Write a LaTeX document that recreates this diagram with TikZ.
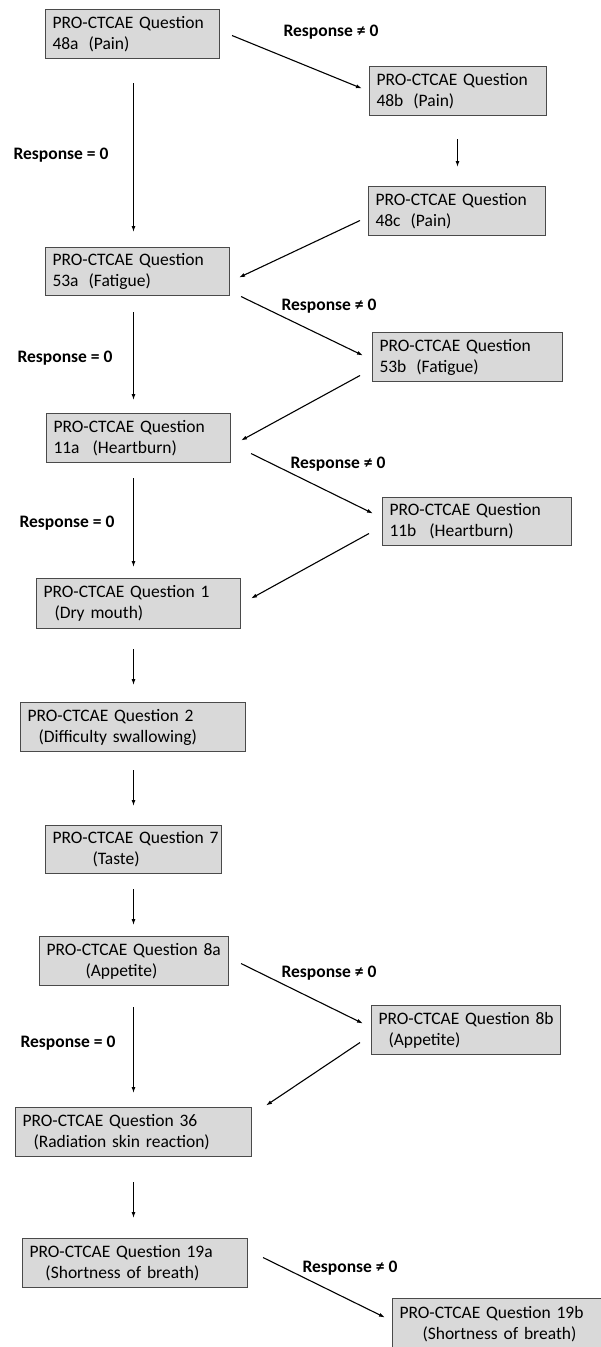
\documentclass[tikz,border=0pt]{standalone}
\usepackage{fontspec}
\setmainfont{Carlito}
\usetikzlibrary{calc,arrows.meta}
\definecolor{boxfill}{HTML}{D9D9D9}
\definecolor{boxline}{HTML}{4A4A4A}
\tikzset{
  qbox/.style={draw=boxline, fill=boxfill, line width=1pt, anchor=north west,
    inner xsep=7pt, inner ysep=0pt, align=left, minimum height=49pt,
    font=\fontsize{17.5}{21}\selectfont},
  lbl/.style={font=\fontsize{17.5}{21}\selectfont\bfseries, inner sep=0pt},
  arr/.style={line width=1.1pt, -{Latex[length=6pt,width=4pt]}}
}
\newcommand{\qb}[7]{% name, x, y, width, height, line 1, line 2
  \node[qbox, minimum width=#4pt, text width=\dimexpr #4pt-14pt\relax, minimum height=#5pt] (#1) at (#2,#3) {\mbox{#6}\\\mbox{#7}};}
\hfuzz=100pt
\begin{document}
\begin{tikzpicture}[x=1pt,y=-1pt]
\useasboundingbox (0,0) rectangle (601,1347);
\clip (0,0) rectangle (601,1347);
% boxes
\qb{q48a}{45}{9}{174}{49}{PRO-CTCAE Question}{48a\hspace{10pt}(Pain)}
\qb{q48b}{369}{66}{177}{49}{PRO-CTCAE Question}{48b\hspace{10pt}(Pain)}
\qb{q48c}{368}{186}{177}{49}{PRO-CTCAE Question}{48c\hspace{10pt}(Pain)}
\qb{q53a}{45}{247}{184}{48}{PRO-CTCAE Question}{53a\hspace{10pt}(Fatigue)}
\qb{q53b}{372}{332}{190}{49}{PRO-CTCAE Question}{53b\hspace{10pt}(Fatigue)}
\qb{q11a}{46}{413}{184}{49}{PRO-CTCAE Question}{11a\hspace{13pt}(Heartburn)}
\qb{q11b}{382}{497}{189}{48}{PRO-CTCAE Question}{11b\hspace{13pt}(Heartburn)}
\qb{q1}{36}{578}{204}{50}{PRO-CTCAE Question 1}{\hspace*{11pt}(Dry mouth)}
\qb{q2}{20}{702}{225}{49}{PRO-CTCAE Question 2}{\hspace*{11pt}(Difficulty swallowing)}
\qb{q7}{45}{825}{176}{48}{PRO-CTCAE Question 7}{\hspace*{40pt}(Taste)}
\qb{q8a}{39}{936}{189}{49}{PRO-CTCAE Question 8a}{\hspace*{39pt}(Appetite)}
\qb{q8b}{371}{1005}{189}{49}{PRO-CTCAE Question 8b}{\hspace*{10pt}(Appetite)}
\qb{q36}{15}{1107}{236}{49}{PRO-CTCAE Question 36}{\hspace*{11pt}(Radiation skin reaction)}
\qb{q19a}{22}{1238}{225}{49}{PRO-CTCAE Question 19a}{\hspace*{16pt}(Shortness of breath)}
\qb{q19b}{392}{1298}{235}{52}{PRO-CTCAE Question 19b}{\hspace*{23pt}(Shortness of breath)}
% labels
\node[lbl] (l1) at (331,32) {Response ≠ 0};
\node[lbl] (l2) at (61,155) {Response = 0};
\node[lbl] (l3) at (329,306) {Response ≠ 0};
\node[lbl] (l4) at (65,358) {Response = 0};
\node[lbl] (l5) at (338,464) {Response ≠ 0};
\node[lbl] (l6) at (67,523) {Response = 0};
\node[lbl] (l7) at (329,973) {Response ≠ 0};
\node[lbl] (l8) at (68,1043) {Response = 0};
\node[lbl] (l9) at (350,1268) {Response ≠ 0};
% arrows
\draw[arr] ($(q48a.east)+(12,1.5)$) -- ($(q48b.west)+(-7,-2.5)$);
\draw[arr] ($(q48a.south)+(1,24)$) -- ($(q53a.north)+(-4,-15)$);
\draw[arr] ($(q48b.south)+(-0.5,23)$) -- ($(q48c.north)+(0.5,-19)$);
\draw[arr] ($(q48c.west)+(-8,9.5)$) -- ($(q53a.east)+(9,6)$);
\draw[arr] ($(q53a.east)+(11,25)$) -- ($(q53b.west)+(-9,-1.5)$);
\draw[arr] ($(q53a.south)+(-4,16)$) -- ($(q11a.north)+(-5,-13)$);
\draw[arr] ($(q53b.west)+(-12,18.5)$) -- ($(q11a.east)+(10,2.5)$);
\draw[arr] ($(q11a.east)+(20,15.5)$) -- ($(q11b.west)+(-9,-8)$);
\draw[arr] ($(q11a.south)+(-5,15)$) -- ($(q1.north)+(-5,-11)$);
\draw[arr] ($(q11b.west)+(-13,12)$) -- ($(q1.east)+(10,-5)$);
\draw[arr] ($(q1.south)+(-5,20)$) -- ($(q2.north)+(0.5,-17)$);
\draw[arr] ($(q2.south)+(0.5,18)$) -- ($(q7.north)+(0,-19)$);
\draw[arr] ($(q7.south)+(0,15)$) -- ($(q8a.north)+(-0.5,-11)$);
\draw[arr] ($(q8a.east)+(12,2.5)$) -- ($(q8b.west)+(-8,-6.5)$);
\draw[arr] ($(q8a.south)+(-0.5,21)$) -- ($(q36.north)+(0,-14)$);
\draw[arr] ($(q8b.west)+(-11,12.5)$) -- ($(q36.east)+(14,-26.5)$);
\draw[arr] ($(q36.south)+(0,25)$) -- ($(q19a.north)+(-1.5,-20)$);
\draw[arr] ($(q19a.east)+(15,-5.5)$) -- ($(q19b.west)+(-7,-7)$);
\end{tikzpicture}
\end{document}
